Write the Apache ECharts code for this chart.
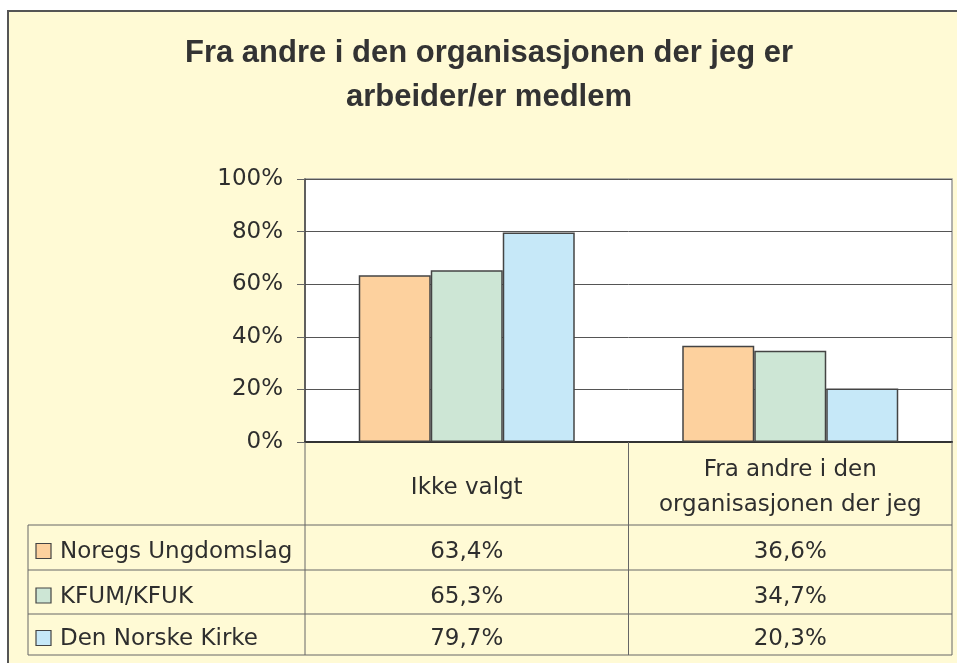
<!DOCTYPE html>
<html>
<head>
<meta charset="utf-8">
<script src="https://cdn.jsdelivr.net/npm/echarts@6/dist/echarts.min.js"></script>
<style>
    html, body { margin: 0; padding: 0; background: #fff; }
    #chart { width: 957px; height: 663px; }
</style>
</head>
<body>
<div id="chart"></div>
<script>
// chart data
const categories = ['Ikke valgt', 'Fra andre i den\norganisasjonen der jeg'];
const seriesNames = ['Noregs Ungdomslag', 'KFUM/KFUK', 'Den Norske Kirke'];
const noregsUngdomslag = [63.4, 36.6];
const kfumKfuk = [65.3, 34.7];
const denNorskeKirke = [79.7, 20.3];
const yTicks = [0, 20, 40, 60, 80, 100];

const seriesData = [noregsUngdomslag, kfumKfuk, denNorskeKirke];
const colors = ['#FDD19E', '#CDE6D5', '#C6E8F8'];

// layout (px)
const W = 957, H = 663;
const gridLeft = 305, gridRight = 952, gridTop = 179, axisY = 442;
const tableLeft = 28;
const rowLines = [525, 570, 614, 655];
const catWidth = (gridRight - gridLeft) / categories.length;
const textFont = '23px "DejaVu Sans"';
const textColor = '#2e2e2e';

const fmt = v => v.toFixed(1).replace('.', ',') + '%';

let graphics = [];
// outer frame
graphics.push({
    type: 'rect', z: -10,
    shape: {x: 8, y: 11, width: 1000, height: 700},
    style: {fill: '#FFFAD5', stroke: '#555', lineWidth: 2}
});
// title
graphics.push({
    type: 'text', z: 10,
    style: {
        x: 489, y: 75,
        text: 'Fra andre i den organisasjonen der jeg er\narbeider/er medlem',
        font: 'bold 31px "Liberation Sans", Arial',
        fill: '#333', lineHeight: 44,
        textAlign: 'center', textVerticalAlign: 'middle'
    }
});

// data table lines
const line = (x1, y1, x2, y2) => ({
    type: 'line', z: 10,
    shape: {x1, y1, x2, y2},
    style: {stroke: '#666', lineWidth: 1}
});
graphics.push(line(gridLeft, axisY, gridLeft, rowLines[3]));
for (let i = 1; i <= categories.length; i++) {
    let x = gridLeft + catWidth * i;
    graphics.push(line(x, axisY, x, rowLines[3]));
}
graphics.push(line(tableLeft, rowLines[0], tableLeft, rowLines[3]));
rowLines.forEach(y => graphics.push(line(tableLeft, y, gridRight, y)));

// data table rows
seriesNames.forEach((name, s) => {
    let cy = (rowLines[s] + rowLines[s + 1]) / 2 + 5;
    graphics.push({
        type: 'rect', z: 10,
        shape: {x: 36, y: cy - 9, width: 15, height: 15},
        style: {fill: colors[s], stroke: '#444', lineWidth: 1.2}
    });
    graphics.push({
        type: 'text', z: 10,
        style: {x: 60, y: cy, text: name, font: textFont, fill: textColor,
                textAlign: 'left', textVerticalAlign: 'middle'}
    });
    seriesData[s].forEach((v, c) => {
        graphics.push({
            type: 'text', z: 10,
            style: {x: gridLeft + catWidth * (c + 0.5), y: cy, text: fmt(v),
                    font: textFont, fill: textColor,
                    textAlign: 'center', textVerticalAlign: 'middle'}
        });
    });
});

const chart = echarts.init(document.getElementById('chart'));
chart.setOption({
    backgroundColor: '#fff',
    animation: false,
    grid: {
        left: gridLeft,
        right: W - gridRight,
        top: gridTop,
        bottom: H - axisY,
        show: true,
        backgroundColor: '#fff',
        borderColor: '#999',
        borderWidth: 1.5
    },
    xAxis: {
        type: 'category',
        data: categories,
        axisLine: {lineStyle: {color: '#333', width: 2}},
        axisTick: {show: false},
        axisLabel: {
            interval: 0,
            margin: 46,
            verticalAlign: 'middle',
            fontFamily: 'DejaVu Sans',
            fontSize: 23,
            lineHeight: 35,
            color: textColor
        }
    },
    yAxis: {
        type: 'value',
        min: yTicks[0],
        max: yTicks[yTicks.length - 1],
        interval: yTicks[1] - yTicks[0],
        axisLine: {show: true, lineStyle: {color: '#444', width: 1.5}},
        axisTick: {show: true, length: 8, lineStyle: {color: '#666'}},
        axisLabel: {
            margin: 22,
            formatter: '{value}%',
            fontFamily: 'DejaVu Sans',
            fontSize: 23,
            color: textColor
        },
        splitLine: {lineStyle: {color: '#555', width: 1}}
    },
    series: seriesNames.map((name, s) => ({
        name: name,
        type: 'bar',
        data: seriesData[s],
        barWidth: 72,
        barGap: '0%',
        itemStyle: {color: colors[s], borderColor: '#444', borderWidth: 1.5}
    })),
    graphic: graphics
});
</script>
</body>
</html>
